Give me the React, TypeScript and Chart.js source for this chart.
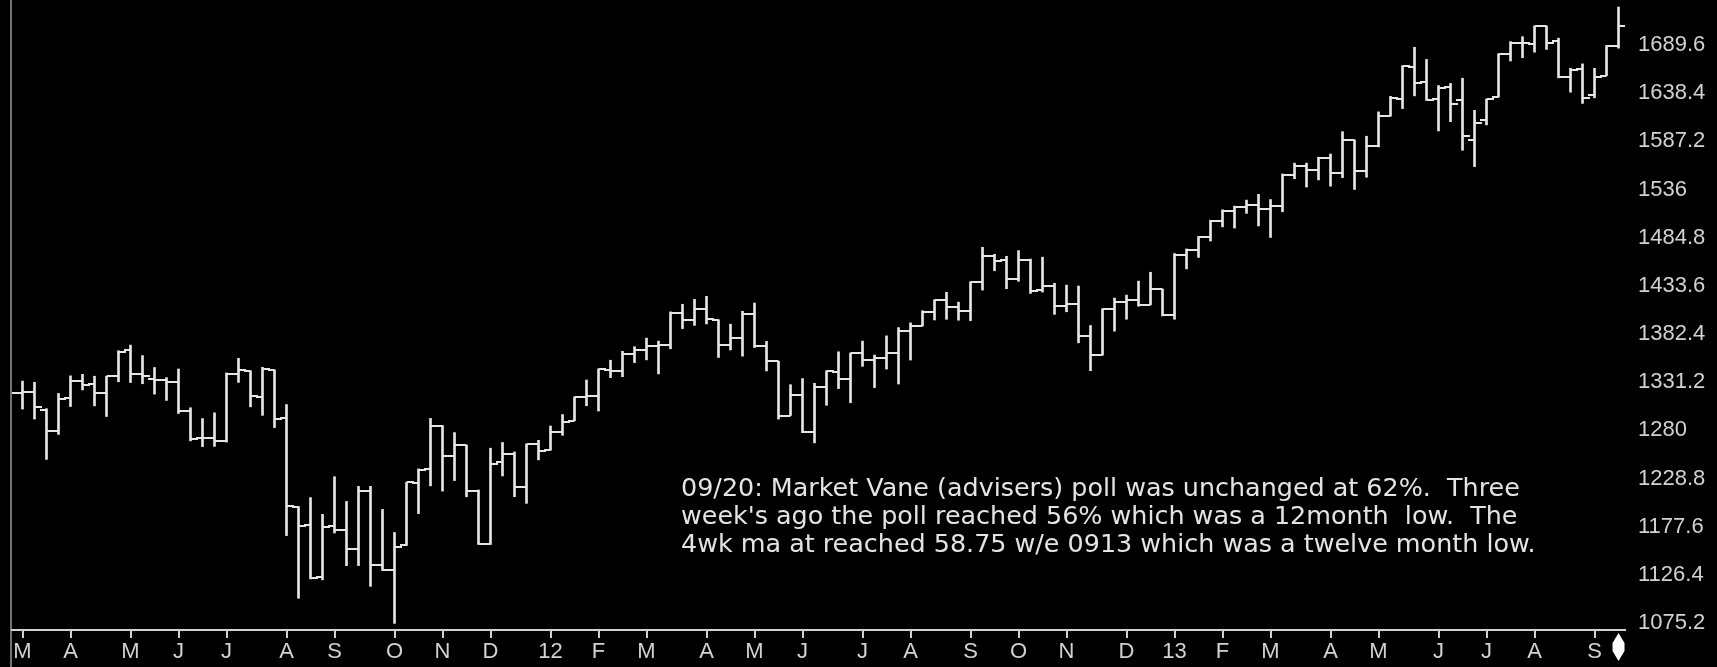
import React, { useEffect, useRef } from 'react';
import { Chart, registerables } from 'chart.js';

Chart.register(...registerables);

// Week-ending dates (weekly bars)
const weeks = [
  '2011-02-25','2011-03-04','2011-03-11','2011-03-18','2011-03-25','2011-04-01','2011-04-08','2011-04-15','2011-04-21','2011-04-29',
  '2011-05-06','2011-05-13','2011-05-20','2011-05-27','2011-06-03','2011-06-10','2011-06-17','2011-06-24','2011-07-01','2011-07-08',
  '2011-07-15','2011-07-22','2011-07-29','2011-08-05','2011-08-12','2011-08-19','2011-08-26','2011-09-02','2011-09-09','2011-09-16',
  '2011-09-23','2011-09-30','2011-10-07','2011-10-14','2011-10-21','2011-10-28','2011-11-04','2011-11-11','2011-11-18','2011-11-25',
  '2011-12-02','2011-12-09','2011-12-16','2011-12-23','2011-12-30',
  '2012-01-06','2012-01-13','2012-01-20','2012-01-27','2012-02-03','2012-02-10','2012-02-17','2012-02-24','2012-03-02','2012-03-09',
  '2012-03-16','2012-03-23','2012-03-30','2012-04-05','2012-04-13','2012-04-20','2012-04-27','2012-05-04','2012-05-11','2012-05-18',
  '2012-05-25','2012-06-01','2012-06-08','2012-06-15','2012-06-22','2012-06-29','2012-07-06','2012-07-13','2012-07-20','2012-07-27',
  '2012-08-03','2012-08-10','2012-08-17','2012-08-24','2012-08-31','2012-09-07','2012-09-14','2012-09-21','2012-09-28','2012-10-05',
  '2012-10-12','2012-10-19','2012-10-26','2012-11-02','2012-11-09','2012-11-16','2012-11-23','2012-11-30','2012-12-07','2012-12-14',
  '2012-12-21','2012-12-28',
  '2013-01-04','2013-01-11','2013-01-18','2013-01-25','2013-02-01','2013-02-08','2013-02-15','2013-02-22','2013-03-01','2013-03-08',
  '2013-03-15','2013-03-22','2013-03-28','2013-04-05','2013-04-12','2013-04-19','2013-04-26','2013-05-03','2013-05-10','2013-05-17',
  '2013-05-24','2013-05-31','2013-06-07','2013-06-14','2013-06-21','2013-06-28','2013-07-05','2013-07-12','2013-07-19','2013-07-26',
  '2013-08-02','2013-08-09','2013-08-16','2013-08-23','2013-08-30','2013-09-06','2013-09-13','2013-09-20',
];

const open = [
  1340.4,1319.9,1321.2,1301.2,1279.3,1314.0,1332.0,1329.0,1319.7,1337.9,
  1365.2,1340.2,1334.8,1333.1,1331.1,1300.3,1271.5,1272.0,1268.4,1339.6,
  1343.3,1315.9,1344.3,1292.6,1198.5,1178.9,1123.6,1177.9,1174.0,1153.5,
  1216.0,1136.4,1131.2,1158.2,1224.5,1238.7,1285.0,1253.2,1263.9,1215.6,
  1158.7,1246.0,1255.1,1219.7,1265.0,
  1258.9,1277.8,1290.2,1315.3,1316.2,1344.3,1342.6,1361.2,1365.2,1369.6,
  1370.8,1404.2,1397.1,1408.5,1397.5,1370.3,1378.5,1403.3,1369.2,1353.4,
  1295.7,1317.8,1278.0,1325.7,1342.4,1334.9,1362.3,1354.7,1356.5,1362.3,
  1385.9,1391.0,1405.9,1418.1,1411.1,1406.5,1437.9,1465.4,1460.9,1440.9,
  1460.9,1428.8,1433.2,1411.9,1414.0,1379.9,1359.9,1409.2,1416.3,1418.1,
  1413.5,1430.1,
  1402.4,1466.5,1472.1,1486.0,1503.0,1513.2,1517.9,1519.8,1515.6,1518.2,
  1551.2,1560.7,1556.9,1569.2,1553.3,1588.6,1555.3,1582.3,1614.4,1632.7,
  1665.7,1650.0,1631.7,1644.7,1630.6,1588.8,1609.8,1634.2,1679.6,1692.1,
  1690.9,1709.7,1693.4,1655.3,1664.3,1635.9,1656.9,1688.0,
];

const high = [
  1344.1,1332.3,1331.1,1303.0,1319.2,1337.9,1339.5,1337.5,1337.5,1364.6,
  1370.6,1359.4,1346.8,1336.0,1345.2,1304.0,1292.5,1298.6,1341.0,1356.5,
  1343.3,1347.0,1344.3,1307.4,1199.0,1208.5,1190.7,1230.7,1204.4,1220.4,
  1220.4,1195.9,1171.4,1224.6,1239.0,1292.7,1285.1,1277.6,1264.3,1216.6,
  1261.0,1267.1,1257.0,1265.4,1269.4,
  1284.6,1296.8,1315.5,1333.5,1345.3,1354.5,1364.0,1368.9,1378.0,1374.8,
  1405.9,1414.0,1419.2,1422.4,1397.5,1392.8,1406.6,1415.3,1374.5,1353.4,
  1328.5,1335.0,1330.0,1343.3,1363.5,1362.2,1374.8,1360.0,1380.4,1389.2,
  1394.2,1407.1,1418.7,1426.7,1416.2,1437.9,1474.5,1467.1,1465.0,1471.0,
  1462.0,1464.0,1436.3,1434.3,1433.4,1391.4,1409.2,1420.6,1423.7,1438.6,
  1448.0,1430.1,
  1467.9,1472.8,1486.0,1503.3,1514.4,1518.3,1524.7,1530.9,1525.3,1552.5,
  1564.0,1564.0,1570.3,1573.7,1597.4,1588.6,1592.6,1618.5,1635.0,1667.5,
  1687.2,1674.2,1646.5,1648.7,1654.2,1620.1,1632.1,1680.2,1693.1,1698.4,
  1709.7,1709.7,1696.8,1664.9,1669.5,1664.8,1689.0,1729.9,
];

const low = [
  1294.3,1302.6,1292.0,1249.1,1275.6,1305.3,1322.9,1306.0,1294.7,1331.6,
  1330.8,1329.5,1318.5,1311.8,1297.9,1268.8,1262.7,1262.9,1267.5,1330.9,
  1305.0,1295.9,1282.9,1168.1,1101.5,1122.1,1121.1,1170.9,1136.1,1136.2,
  1114.2,1131.1,1074.8,1157.6,1191.5,1221.0,1215.4,1226.6,1209.4,1158.7,
  1158.7,1231.5,1209.5,1202.4,1248.6,
  1258.9,1274.7,1290.2,1306.1,1300.5,1336.0,1337.0,1352.0,1354.9,1340.0,
  1366.7,1388.1,1391.6,1393.1,1357.4,1365.4,1358.8,1368.0,1343.1,1292.0,
  1295.7,1277.5,1266.7,1306.6,1324.4,1309.3,1348.0,1325.4,1345.1,1329.2,
  1354.7,1391.0,1397.3,1398.0,1397.0,1396.6,1429.1,1449.6,1430.5,1438.4,
  1425.5,1427.0,1403.3,1406.0,1373.0,1343.4,1359.9,1385.4,1398.1,1411.9,
  1413.5,1401.6,
  1398.1,1451.6,1463.8,1481.2,1496.3,1495.0,1510.6,1497.3,1485.0,1512.3,
  1547.4,1538.6,1546.2,1539.5,1548.6,1536.0,1549.0,1581.3,1614.0,1622.0,
  1635.5,1630.7,1598.2,1608.1,1577.7,1560.3,1604.6,1634.2,1672.6,1676.0,
  1681.9,1684.9,1654.7,1639.4,1627.5,1633.4,1656.9,1686.2,
];

const close = [
  1319.9,1321.2,1304.3,1279.2,1313.8,1332.4,1328.2,1319.7,1337.4,1363.6,
  1340.2,1337.8,1333.3,1331.1,1300.2,1271.0,1271.5,1268.5,1339.7,1343.8,
  1316.1,1345.0,1292.3,1199.4,1178.8,1123.5,1176.8,1174.0,1154.2,1216.0,
  1136.4,1131.4,1155.5,1224.6,1238.3,1285.1,1253.2,1263.9,1215.7,1158.7,
  1244.3,1255.2,1219.7,1265.3,1257.6,
  1277.8,1289.1,1315.4,1316.3,1344.9,1342.6,1361.2,1365.7,1369.6,1370.9,
  1404.2,1397.1,1408.5,1398.1,1370.3,1378.5,1403.4,1369.1,1353.4,1295.2,
  1317.8,1278.0,1325.7,1342.8,1335.0,1362.2,1354.7,1356.8,1362.7,1386.0,
  1391.0,1405.9,1418.2,1411.1,1406.6,1437.9,1465.8,1460.2,1440.7,1460.9,
  1428.6,1433.2,1411.9,1414.2,1379.9,1359.9,1409.2,1416.2,1418.1,1413.6,
  1430.2,1402.4,
  1466.5,1472.1,1486.0,1503.0,1513.2,1517.9,1519.8,1515.6,1518.2,1551.2,
  1560.7,1556.9,1569.2,1553.3,1588.9,1555.3,1582.2,1614.4,1633.7,1667.5,
  1649.6,1630.7,1643.4,1626.7,1592.4,1606.3,1631.9,1680.2,1692.1,1691.7,
  1709.7,1691.4,1655.8,1663.5,1633.0,1655.2,1688.0,1709.9,
];

const xTickLabels = [
  'M','A','M','J','J','A','S','O','N','D',
  '12','F','M','A','M','J','J','A','S','O','N','D',
  '13','F','M','A','M','J','J','A','S',
];

const yTicks = [1075.2,1126.4,1177.6,1228.8,1280,1331.2,1382.4,1433.6,1484.8,1536,1587.2,1638.4,1689.6];
const yTickLabels = ['1075.2','1126.4','1177.6','1228.8','1280','1331.2','1382.4','1433.6','1484.8','1536','1587.2','1638.4','1689.6'];

const noteLines = [
  '09/20: Market Vane (advisers) poll was unchanged at 62%.  Three',
  "week's ago the poll reached 56% which was a 12month  low.  The",
  '4wk ma at reached 58.75 w/e 0913 which was a twelve month low.',
];

const BAR_COLOR = '#e6e6e6';
const AXIS_COLOR = '#d2d2d2';
const LABEL_FONT = "'Liberation Sans', Arial, sans-serif";

export default function App() {
  const ref = useRef<HTMLCanvasElement | null>(null);

  useEffect(() => {
    document.body.style.margin = '0';
    document.body.style.background = '#000';
    const canvas = ref.current;
    if (!canvas) return;

    const makeTick = (side: 'left' | 'right') => {
      const c = document.createElement('canvas');
      c.width = 14;
      c.height = 2;
      const g = c.getContext('2d')!;
      g.fillStyle = BAR_COLOR;
      g.fillRect(side === 'left' ? 0 : 7, 0, 7, 2);
      return c;
    };
    const openTick = makeTick('left');
    const closeTick = makeTick('right');

    const monthStarts: number[] = [];
    for (let i = 1; i < weeks.length; i++) {
      if (weeks[i].slice(5, 7) !== weeks[i - 1].slice(5, 7)) monthStarts.push(i);
    }
    const labelAt: Record<number, string> = {};
    monthStarts.forEach((idx, j) => { labelAt[idx] = xTickLabels[j] ?? ''; });

    const idx = weeks.map((_, i) => i);
    const lastIndex = weeks.length - 1;

    const zeroPad = (scale: any) => {
      scale.paddingTop = 0;
      scale.paddingBottom = 0;
      scale.paddingLeft = 0;
      scale.paddingRight = 0;
    };

    const decoPlugin = {
      id: 'deco',
      beforeDraw(chart: any) {
        const ctx = chart.ctx;
        ctx.save();
        ctx.fillStyle = '#000';
        ctx.fillRect(0, 0, chart.width, chart.height);
        ctx.fillStyle = '#74746a';
        ctx.fillRect(chart.chartArea.left - 2, 0, 2, chart.height);
        ctx.restore();
      },
      afterDraw(chart: any) {
        const ctx = chart.ctx;
        const xs = chart.scales.x;
        ctx.save();
        // current-bar marker
        const cx = xs.getPixelForValue(lastIndex);
        const top = chart.chartArea.bottom + 3;
        const bot = chart.chartArea.bottom + 31;
        ctx.fillStyle = '#ffffff';
        ctx.beginPath();
        ctx.moveTo(cx, top);
        ctx.lineTo(cx + 6, top + 10);
        ctx.lineTo(cx + 6, bot - 10);
        ctx.lineTo(cx, bot);
        ctx.lineTo(cx - 6, bot - 10);
        ctx.lineTo(cx - 6, top + 10);
        ctx.closePath();
        ctx.fill();
        // note text
        ctx.fillStyle = '#e4e4e4';
        ctx.textBaseline = 'alphabetic';
        ctx.textAlign = 'left';
        let size = 21;
        ctx.font = `${size}px 'DejaVu Sans'`;
        const w = ctx.measureText(noteLines[0]).width;
        size = (size * 839) / w;
        ctx.font = `${size.toFixed(2)}px 'DejaVu Sans'`;
        noteLines.forEach((t, i) => ctx.fillText(t, 681, 496 + i * 27.8));
        ctx.restore();
      },
    };

    const chart = new Chart(canvas, {
      type: 'bar',
      data: {
        datasets: [
          {
            type: 'bar',
            label: 'High-Low',
            data: idx.map((i) => ({ x: i, y: [low[i], high[i]] })) as any,
            backgroundColor: BAR_COLOR,
            borderWidth: 0,
            barThickness: 2,
            clip: 0 as any,
          } as any,
          {
            type: 'line',
            label: 'Open',
            data: idx.map((i) => ({ x: i, y: open[i] })),
            showLine: false,
            pointStyle: openTick as any,
            pointRadius: 7,
            pointHoverRadius: 7,
            pointBorderWidth: 0,
            clip: 0 as any,
          } as any,
          {
            type: 'line',
            label: 'Close',
            data: idx.map((i) => ({ x: i, y: close[i] })),
            showLine: false,
            pointStyle: closeTick as any,
            pointRadius: 7,
            pointHoverRadius: 7,
            pointBorderWidth: 0,
            clip: 0 as any,
          } as any,
        ],
      },
      options: {
        animation: false,
        responsive: false,
        maintainAspectRatio: false,
        events: [],
        layout: { padding: { left: 12, top: 0, right: 0, bottom: 0 }, autoPadding: false } as any,
        plugins: {
          legend: { display: false },
          tooltip: { enabled: false },
        },
        scales: {
          x: {
            type: 'linear',
            position: 'bottom',
            min: 0.125,
            max: 134.54,
            offset: false,
            afterBuildTicks: (scale: any) => {
              scale.ticks = monthStarts.map((v) => ({ value: v }));
            },
            afterFit: (scale: any) => {
              scale.height = 37;
              zeroPad(scale);
            },
            grid: {
              display: true,
              offset: false,
              drawOnChartArea: false,
              drawTicks: true,
              tickLength: 8,
              color: AXIS_COLOR,
              lineWidth: 2,
            },
            border: { display: true, color: AXIS_COLOR, width: 2 },
            ticks: {
              autoSkip: false,
              maxRotation: 0,
              minRotation: 0,
              padding: 1,
              color: AXIS_COLOR,
              font: { family: LABEL_FONT, size: 22 },
              callback: (v: any) => labelAt[Math.round(Number(v))] ?? '',
            },
          },
          y: {
            type: 'linear',
            position: 'right',
            min: 1067.76,
            max: 1737.4,
            afterBuildTicks: (scale: any) => {
              scale.ticks = yTicks.map((v) => ({ value: v }));
            },
            afterFit: (scale: any) => {
              scale.width = 92;
              zeroPad(scale);
            },
            grid: { display: false, drawTicks: false },
            border: { display: false },
            ticks: {
              padding: 13,
              color: AXIS_COLOR,
              font: { family: LABEL_FONT, size: 22 },
              callback: (_v: any, i: number) => yTickLabels[i],
            },
          },
        },
      },
      plugins: [decoPlugin],
    } as any);

    return () => chart.destroy();
  }, []);

  return (
    <div style={{ width: 1717, height: 667, background: '#000' }}>
      <canvas ref={ref} width={1717} height={667} style={{ display: 'block' }} />
    </div>
  );
}
